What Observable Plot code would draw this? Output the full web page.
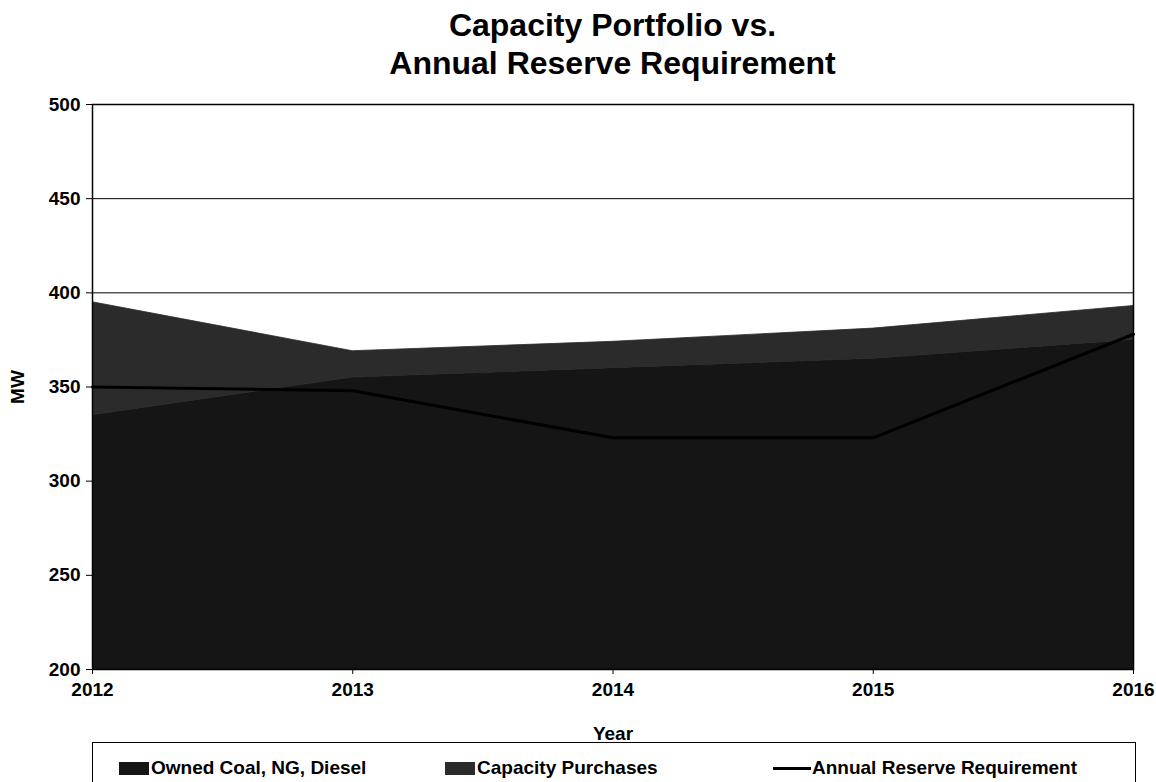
<!DOCTYPE html>
<html>
<head>
<meta charset="utf-8">
<script src="https://cdn.jsdelivr.net/npm/d3@7"></script>
<script src="https://cdn.jsdelivr.net/npm/@observablehq/plot@0.6"></script>
<style>
  html, body { margin: 0; padding: 0; background: #fff; }
  body { width: 1156px; height: 782px; overflow: hidden; font-family: "Liberation Sans", Arial, sans-serif; position: relative; }
  #title { position: absolute; left: 92px; width: 1041px; top: 6px; text-align: center; font-weight: bold; font-size: 32px; line-height: 38px; color: #000; }
  #chart { position: absolute; left: 0; top: 88px; }
  #legend { position: absolute; left: 92px; top: 742px; width: 1044px; height: 60px; border: 1.5px solid #000; box-sizing: border-box; }
  .item { position: absolute; top: 14px; display: flex; align-items: center; font-weight: bold; font-size: 19px; color: #000; white-space: nowrap; }
  .sw { width: 30px; height: 13px; margin-right: 2px; }
  .ln { width: 38px; height: 3px; background: #000; margin-right: 1px; }
</style>
</head>
<body>
<div id="title">Capacity Portfolio vs.<br>Annual Reserve Requirement</div>
<div id="chart"></div>
<div id="legend"></div>
<script>
// ---- data ----
const years = [2012, 2013, 2014, 2015, 2016];
const seriesNames = ["Owned Coal, NG, Diesel", "Capacity Purchases", "Annual Reserve Requirement"];
const owned = [335, 355, 360, 365, 375];
const purchases = [60, 14, 14, 16, 18];
const reserve = [350, 348, 323, 323, 378];
const yTicks = [200, 250, 300, 350, 400, 450, 500];
const gridValues = [250, 300, 350, 400, 450];
const colors = ["#151515", "#2b2b2b"];

// ---- tables ----
const stackTable = [];
years.forEach((yr, i) => {
  stackTable.push({year: yr, series: seriesNames[0], value: owned[i]});
  stackTable.push({year: yr, series: seriesNames[1], value: purchases[i]});
});
const lineTable = years.map((yr, i) => ({year: yr, value: reserve[i]}));

const chart = Plot.plot({
  width: 1156,
  height: 654,
  marginLeft: 92,
  marginRight: 23,
  marginTop: 16,
  marginBottom: 73,
  style: {fontFamily: "'Liberation Sans', Arial, sans-serif", fontWeight: "bold", fontSize: "19px", color: "#000", background: "#fff"},
  x: {domain: [years[0], years[years.length - 1]]},
  y: {domain: [yTicks[0], yTicks[yTicks.length - 1]]},
  color: {domain: seriesNames.slice(0, 2), range: colors},
  marks: [
    Plot.ruleY(gridValues, {stroke: "#000", strokeWidth: 1}),
    Plot.areaY(stackTable, {x: "year", y: "value", fill: "series", stroke: "series", strokeWidth: 0.8, order: seriesNames.slice(0, 2), clip: true}),
    Plot.line(lineTable, {x: "year", y: "value", stroke: "#000", strokeWidth: 3}),
    Plot.frame({stroke: "#000", strokeWidth: 1.5}),
    Plot.axisY({ticks: yTicks, tickSize: 6, tickPadding: 6, label: "MW", labelAnchor: "center", labelArrow: "none", labelOffset: 82, fontSize: 19, fontWeight: "bold"}),
    Plot.axisX({ticks: years, tickFormat: d3.format("d"), tickSize: 5, tickPadding: 8, label: "Year", labelAnchor: "center", labelArrow: "none", fontSize: 19, fontWeight: "bold"})
  ]
});
document.getElementById("chart").appendChild(chart);

// ---- legend ----
const legend = document.getElementById("legend");
const positions = [26, 352, 680];
seriesNames.forEach((name, i) => {
  const item = document.createElement("div");
  item.className = "item";
  item.style.left = positions[i] + "px";
  const sw = document.createElement("div");
  if (i < 2) { sw.className = "sw"; sw.style.background = colors[i]; }
  else { sw.className = "ln"; }
  item.appendChild(sw);
  const t = document.createElement("span");
  t.textContent = name;
  item.appendChild(t);
  legend.appendChild(item);
});
</script>
</body>
</html>
